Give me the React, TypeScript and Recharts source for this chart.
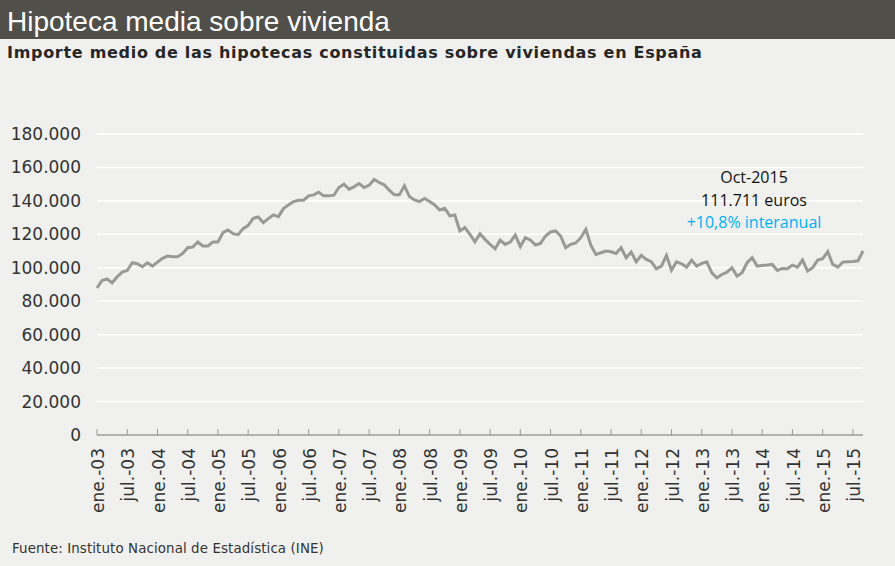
import React from 'react';
import { LineChart, Line, XAxis, YAxis, CartesianGrid } from 'recharts';

// Importe medio (euros) de las hipotecas sobre viviendas, mensual
const MESES = ['ene.', 'feb.', 'mar.', 'abr.', 'may.', 'jun.', 'jul.', 'ago.', 'sep.', 'oct.', 'nov.', 'dic.'];
const ANIOS = ['03', '04', '05', '06', '07', '08', '09', '10', '11', '12', '13', '14', '15'];

const importe2003 = [88000, 92400, 93400, 91000, 94600, 97400, 98400, 103000, 102400, 100600, 103000, 101000];
const importe2004 = [103400, 105600, 107000, 106600, 106600, 108600, 112000, 112400, 115400, 113000, 113000, 115400];
const importe2005 = [115400, 121000, 122600, 120400, 119800, 123400, 125400, 129600, 130400, 127000, 129400, 131600];
const importe2006 = [130600, 135400, 137600, 139600, 140400, 140400, 143000, 143600, 145200, 143000, 143000, 143400];
const importe2007 = [148000, 150000, 147000, 148400, 150400, 148000, 149400, 152800, 151000, 149600, 146400, 143600];
const importe2008 = [143600, 149000, 142600, 140600, 139600, 141400, 139600, 137600, 134600, 135600, 131000, 131600];
const importe2009 = [122000, 124000, 120000, 115600, 120400, 117000, 114000, 111400, 116600, 114000, 115400, 119600];
const importe2010 = [112600, 118000, 116600, 113600, 114600, 119000, 121400, 122000, 119000, 112000, 114000, 114800];
const importe2011 = [118000, 123000, 113500, 108000, 109000, 110000, 109600, 108600, 112000, 106000, 109400, 103600];
const importe2012 = [107400, 105000, 103600, 99400, 101000, 107400, 98600, 103600, 102400, 100400, 104600, 101000];
const importe2013 = [102600, 103600, 97000, 94000, 96000, 97400, 100000, 95000, 97000, 103000, 106000, 101000];
const importe2014 = [101400, 101600, 102000, 98400, 99600, 99400, 101600, 100400, 104600, 98000, 100000, 104600];
const importe2015 = [105400, 109600, 102000, 100400, 103400, 103600, 103800, 104200, 110000];

const porAnio = [
  importe2003, importe2004, importe2005, importe2006, importe2007, importe2008, importe2009,
  importe2010, importe2011, importe2012, importe2013, importe2014, importe2015,
];

const Y_TICKS = [0, 20000, 40000, 60000, 80000, 100000, 120000, 140000, 160000, 180000];

const data = porAnio.flatMap((valores, a) =>
  valores.map((importe, m) => ({ mes: `${MESES[m]}-${ANIOS[a]}`, importe }))
);

const formatMiles = (v: number) => String(v).replace(/\B(?=(\d{3})+(?!\d))/g, '.');

const TICK_COLOR = '#333333';
const AXIS_COLOR = '#9a9a9a';

const MesTick = (props: any) => {
  const { x, y, payload } = props;
  return (
    <g>
      <line x1={x} y1={y} x2={x} y2={y - 6} stroke={AXIS_COLOR} strokeWidth={1} />
      <text
        x={x}
        y={y + 13}
        dy="0.42em"
        textAnchor="end"
        transform={`rotate(-90, ${x}, ${y + 13})`}
        fill={TICK_COLOR}
        fontSize={17}
        fontFamily='"DejaVu Sans", Verdana, sans-serif'
      >
        {payload.value}
      </text>
    </g>
  );
};

export default function App() {
  return (
    <div
      style={{
        position: 'absolute',
        left: 0,
        top: 0,
        width: 895,
        height: 566,
        background: '#F0F1EE',
        overflow: 'hidden',
      }}
    >
      <LineChart
        width={895}
        height={566}
        data={data}
        margin={{ top: 134, right: 32, bottom: 0, left: 0 }}
        style={{ position: 'absolute', left: 0, top: 0 }}
      >
        <CartesianGrid vertical={false} stroke="#ffffff" strokeWidth={1.5} />
        <XAxis
          dataKey="mes"
          interval={5}
          height={131}
          tickSize={0}
          tickMargin={0}
          tickLine={false}
          axisLine={{ stroke: AXIS_COLOR, strokeWidth: 1.5 }}
          tick={<MesTick />}
        />
        <YAxis
          width={97}
          domain={[0, 180000]}
          ticks={Y_TICKS}
          axisLine={false}
          tickLine={false}
          tickSize={0}
          tickMargin={16}
          tickFormatter={formatMiles}
          tick={{ fill: TICK_COLOR, fontSize: 17, fontFamily: '"DejaVu Sans", Verdana, sans-serif' }}
        />
        <Line
          type="linear"
          dataKey="importe"
          stroke="#999999"
          strokeWidth={3}
          dot={false}
          isAnimationActive={false}
        />
      </LineChart>
      <svg width={895} height={566} style={{ position: 'absolute', left: 0, top: 0, pointerEvents: 'none' }}>
        <rect x={0} y={0} width={895} height={39} fill="#504F49" />
        <text x={7} y={31} fill="#ffffff" fontSize={28} fontFamily='"Liberation Sans", Arial, sans-serif'>
          Hipoteca media sobre vivienda
        </text>
        <text
          x={7}
          y={58}
          fill="#262626"
          fontSize={16}
          fontWeight="bold"
          letterSpacing={0.7}
          fontFamily='"DejaVu Sans", Verdana, sans-serif'
        >
          Importe medio de las hipotecas constituidas sobre viviendas en España
        </text>
        <g fontFamily='"Open Sans", "DejaVu Sans", sans-serif' fontSize={16} textAnchor="middle">
          <text x={754} y={183} fill="#111111">Oct-2015</text>
          <text x={754} y={206} fill="#111111">111.711 euros</text>
          <text x={754} y={228} fill="#00B0F0">+10,8% interanual</text>
        </g>
        <text x={12} y={553} fill="#333333" fontSize={13.4} letterSpacing={0.1} fontFamily='"DejaVu Sans", Verdana, sans-serif'>
          Fuente: Instituto Nacional de Estadística (INE)
        </text>
      </svg>
    </div>
  );
}
